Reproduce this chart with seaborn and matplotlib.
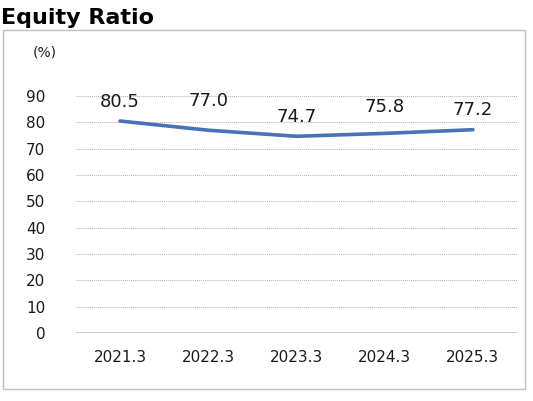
import matplotlib
matplotlib.use("Agg")
import matplotlib.pyplot as plt
import seaborn as sns
import pandas as pd
from matplotlib.patches import Rectangle

# data
years = ["2021.3", "2022.3", "2023.3", "2024.3", "2025.3"]
equity_ratio = [80.5, 77.0, 74.7, 75.8, 77.2]
y_ticks = [0, 10, 20, 30, 40, 50, 60, 70, 80, 90]
# label offsets above each point (points), as the original places them
label_lift = [14, 21, 14, 19, 14]

df = pd.DataFrame({"year": years, "ratio": equity_ratio})
df["pos"] = range(len(years))

sns.set_style("white")
plt.rcParams["font.family"] = ["DejaVu Sans"]

fig = plt.figure(figsize=(5.33, 4.01), dpi=100)
ax = fig.add_axes([76/533, 1-333/401, (517-76)/533, (333-96)/401])

# outer frame of the chart
fig.patches.append(Rectangle((3/533, 1-389/401), (525-3)/533, (389-30)/401,
                             transform=fig.transFigure, fill=False,
                             edgecolor="#bfbfbf", linewidth=1.0))

sns.lineplot(data=df, x="pos", y="ratio", ax=ax, color="#4672b6", linewidth=2.6)

for p, v, lift in zip(df["pos"], df["ratio"], label_lift):
    ax.annotate(f"{v:.1f}", (p, v), xytext=(0, lift), textcoords="offset points",
                ha="center", va="center", fontsize=13, color="#1a1a1a")

ax.set_xlim(-0.5, len(years) - 0.5)
ax.set_ylim(0, 90)
ax.set_xticks(df["pos"])
ax.set_xticklabels(years)
ax.set_yticks(y_ticks)
ax.tick_params(axis="both", length=0, labelsize=11, colors="#1a1a1a")
ax.tick_params(axis="x", pad=12)
ax.tick_params(axis="y", pad=22)
ax.set_xlabel("")
ax.set_ylabel("")

for t in y_ticks[1:]:
    ax.axhline(t, color="#b0b0b0", linewidth=0.7, linestyle=(0, (1, 1)), zorder=0)
ax.axhline(0, color="#bfbfbf", linewidth=1.2, zorder=0)

for s in ax.spines.values():
    s.set_visible(False)
ax.set_facecolor("none")

fig.text(45/533, 1-52/401, "(%)", ha="center", va="center", fontsize=10, color="#1a1a1a")
fig.text(1/533, 1-18/401, "Equity Ratio", ha="left", va="center", fontsize=16,
         fontweight="bold", color="#000000")

fig.savefig("out.png", dpi=100)
